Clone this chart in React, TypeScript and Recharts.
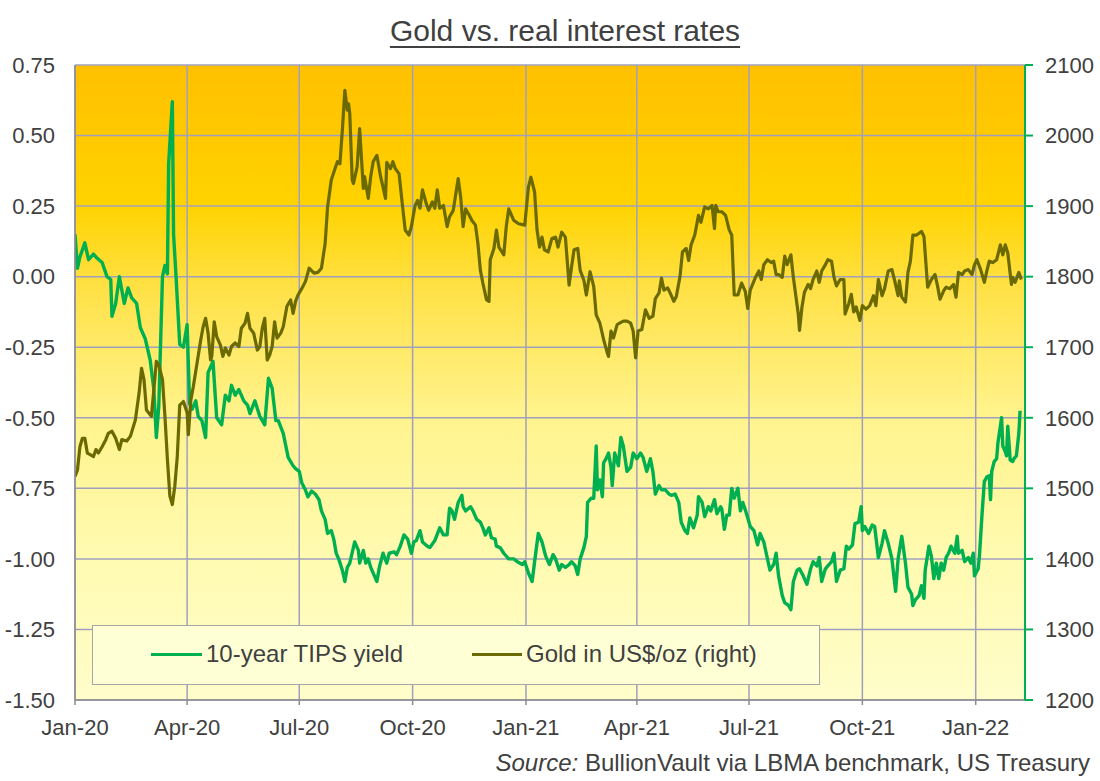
import React from 'react';
import { LineChart, Line, XAxis, YAxis, CartesianGrid } from 'recharts';

// days counted from 1 Jan 2020
const TICK_DAYS = [0, 91, 182, 274, 366, 456, 547, 639, 731];
const TICK_LABELS = ['Jan-20', 'Apr-20', 'Jul-20', 'Oct-20', 'Jan-21', 'Apr-21', 'Jul-21', 'Oct-21', 'Jan-22'];
const LEFT_TICKS = [-1.5, -1.25, -1, -0.75, -0.5, -0.25, 0, 0.25, 0.5, 0.75];
const RIGHT_TICKS = [1200, 1300, 1400, 1500, 1600, 1700, 1800, 1900, 2000, 2100];

// [day, 10-year TIPS yield %]
const TIPS_POINTS: [number, number][] = [
  [0, 0.15], [2, 0.03], [4, 0.07], [8, 0.12], [11, 0.06], [15, 0.08], [18, 0.065], [22, 0.05],
  [26, 0.0], [29, -0.01], [30, -0.14], [33, -0.095], [36, 0.0], [40, -0.095], [43, -0.04], [46, -0.075],
  [50, -0.095], [53, -0.18], [57, -0.22], [61, -0.295], [64, -0.4], [66, -0.57], [68, -0.46], [71, 0.0],
  [73, 0.04], [75, 0.01], [76, 0.4], [79, 0.62], [80, 0.15], [82, 0.0], [85, -0.24], [88, -0.25],
  [91, -0.17], [93, -0.45], [95, -0.47], [98, -0.44], [100, -0.495], [103, -0.51], [106, -0.57], [108, -0.34],
  [112, -0.3], [115, -0.5], [119, -0.525], [122, -0.42], [125, -0.44], [127, -0.385], [130, -0.42], [133, -0.4],
  [137, -0.44], [140, -0.455], [142, -0.485], [146, -0.44], [150, -0.495], [154, -0.525], [157, -0.36], [160, -0.395],
  [163, -0.51], [165, -0.51], [169, -0.555], [173, -0.64], [177, -0.67],
  [179, -0.68], [182, -0.69], [184, -0.73], [187, -0.756], [189, -0.78], [192, -0.76], [195, -0.77], [198, -0.79],
  [200, -0.83], [203, -0.86], [205, -0.91], [208, -0.9], [210, -0.93], [212, -0.98], [214, -1.0], [217, -1.04],
  [219, -1.08], [221, -1.03], [223, -1.015], [227, -0.94], [230, -0.97], [231, -1.015], [234, -0.97], [236, -1.015],
  [238, -1.0], [240, -1.03], [243, -1.06], [245, -1.08], [247, -1.03], [250, -0.98], [253, -1.015], [255, -0.98],
  [259, -0.975], [261, -0.985], [264, -0.955], [267, -0.915], [270, -0.93], [273, -0.98], [275, -0.94], [277, -0.935],
  [280, -0.9], [282, -0.94], [286, -0.955], [288, -0.96], [292, -0.935], [296, -0.89], [299, -0.915], [302, -0.915],
  [304, -0.82], [306, -0.83], [308, -0.86], [310, -0.82], [311, -0.8], [314, -0.775], [315, -0.815], [317, -0.83],
  [321, -0.815], [323, -0.83], [326, -0.86], [329, -0.87], [331, -0.89], [333, -0.915], [336, -0.89], [338, -0.925],
  [341, -0.93], [342, -0.955], [345, -0.96], [348, -0.98], [352, -1.0], [356, -1.0], [359, -1.01], [363, -1.02],
  [365, -1.01], [368, -1.05], [371, -1.08], [373, -1.01], [376, -0.91], [379, -0.94], [382, -0.99], [385, -1.02],
  [388, -0.985], [390, -1.0], [393, -1.04], [395, -1.02], [398, -1.03], [401, -1.02], [403, -1.01], [406, -1.025],
  [408, -1.055], [410, -1.0], [413, -0.96], [415, -0.92], [416, -0.8], [419, -0.785], [421, -0.785], [423, -0.6],
  [424, -0.755], [426, -0.72], [428, -0.78], [429, -0.66], [431, -0.645], [433, -0.625], [435, -0.675], [436, -0.74],
  [438, -0.625], [441, -0.67], [443, -0.57], [445, -0.6], [448, -0.69], [451, -0.675], [453, -0.625], [456, -0.645],
  [459, -0.625], [461, -0.64], [464, -0.69], [467, -0.645], [469, -0.69], [471, -0.77], [474, -0.74], [476, -0.755],
  [479, -0.755], [482, -0.77], [484, -0.775], [487, -0.77], [490, -0.8], [492, -0.87], [495, -0.9], [497, -0.91],
  [499, -0.855], [502, -0.89], [505, -0.845], [506, -0.78], [509, -0.8], [511, -0.85], [514, -0.815], [516, -0.83],
  [519, -0.79], [521, -0.84], [524, -0.815], [525, -0.825], [527, -0.895], [529, -0.845], [531, -0.845], [533, -0.75],
  [535, -0.785], [538, -0.75], [540, -0.83], [542, -0.8], [545, -0.84], [548, -0.885], [551, -0.9],
  [554, -0.95], [556, -0.91], [559, -0.94], [561, -0.98], [564, -1.04], [567, -1.02], [569, -0.98], [571, -1.06],
  [574, -1.13], [576, -1.155], [579, -1.165], [581, -1.18], [583, -1.08], [586, -1.04], [588, -1.035], [591, -1.06],
  [594, -1.09], [597, -1.035], [599, -1.01], [602, -1.025], [604, -0.995], [606, -1.08], [609, -1.035], [611, -1.025],
  [614, -1.01], [616, -0.98], [618, -1.08], [621, -1.04], [624, -1.035], [626, -0.955], [628, -0.965], [631, -0.95],
  [633, -0.875], [636, -0.87], [638, -0.815], [639, -0.9], [641, -0.885], [644, -0.91], [647, -0.88], [649, -0.885],
  [652, -0.995], [655, -0.945], [657, -0.9], [660, -0.945], [663, -1.0], [666, -1.115], [668, -1.0], [671, -0.92],
  [674, -1.015], [676, -1.1], [679, -1.125], [680, -1.165], [682, -1.145], [685, -1.13], [687, -1.095], [689, -1.14],
  [690, -1.04], [693, -0.955], [695, -0.99], [697, -1.07], [699, -1.015], [701, -1.07], [703, -1.015], [705, -1.04],
  [707, -0.995], [709, -0.98], [711, -0.955], [714, -0.98], [716, -0.92], [717, -0.98], [720, -0.97], [722, -1.01],
  [725, -0.995], [727, -1.015], [729, -0.98], [730, -1.06], [733, -1.035], [734, -0.99], [736, -0.85], [738, -0.725],
  [740, -0.71], [742, -0.705], [743, -0.79], [744, -0.69], [746, -0.655], [748, -0.645], [749, -0.59], [752, -0.5],
  [753, -0.6], [755, -0.62], [756, -0.635], [757, -0.53], [759, -0.65], [761, -0.655], [762, -0.645], [764, -0.635],
  [766, -0.555], [767, -0.475],
];

// [day, gold price US$/oz]
const GOLD_POINTS: [number, number][] = [
  [0, 1517], [2, 1526], [4, 1559], [6, 1571], [8, 1571], [10, 1550], [12, 1548], [15, 1545],
  [17, 1555], [19, 1550], [22, 1559], [25, 1569], [27, 1578], [30, 1581], [33, 1571], [36, 1555],
  [38, 1569], [42, 1567], [45, 1574], [49, 1597], [52, 1635], [54, 1670], [56, 1654], [58, 1611],
  [62, 1602], [64, 1640], [66, 1680], [68, 1675], [71, 1654], [73, 1602], [75, 1541], [77, 1489],
  [79, 1477], [81, 1503], [83, 1545], [85, 1618], [88, 1623], [91, 1607], [92, 1576], [94, 1625],
  [96, 1644], [99, 1677], [102, 1710], [104, 1729], [106, 1741], [108, 1720], [110, 1682], [111, 1687],
  [113, 1736], [115, 1715], [118, 1703], [120, 1687], [122, 1699], [125, 1689], [127, 1701], [130, 1706],
  [133, 1701], [135, 1727], [138, 1734], [140, 1748], [142, 1727], [145, 1720], [148, 1696], [150, 1701],
  [152, 1727], [154, 1741], [156, 1682], [158, 1689], [160, 1701], [162, 1736], [164, 1713], [167, 1720],
  [169, 1729], [172, 1758], [175, 1767], [177, 1748],
  [179, 1765], [181, 1774], [184, 1783], [187, 1793], [190, 1812], [194, 1805], [197, 1806], [200, 1812],
  [203, 1847], [205, 1899], [208, 1937], [211, 1953], [213, 1963], [215, 1960], [217, 2008], [219, 2064],
  [221, 2036], [222, 2045], [223, 2031], [225, 1937], [226, 1932], [229, 1956], [231, 2010], [234, 1925],
  [235, 1942], [238, 1911], [240, 1942], [242, 1963], [245, 1972], [248, 1942], [250, 1927], [252, 1911],
  [253, 1962], [256, 1953], [258, 1963], [260, 1953], [263, 1946], [265, 1913], [268, 1866], [271, 1859],
  [273, 1871], [276, 1901], [278, 1908], [280, 1897], [282, 1923], [285, 1904], [287, 1894], [290, 1906],
  [292, 1897], [294, 1923], [296, 1897], [299, 1901], [302, 1871], [304, 1885], [307, 1894], [311, 1939],
  [313, 1913], [315, 1871], [317, 1896], [320, 1887], [322, 1880], [325, 1873], [327, 1847], [329, 1809],
  [331, 1791], [334, 1767], [336, 1765], [337, 1824], [340, 1840], [342, 1866], [344, 1842], [348, 1831],
  [350, 1871], [352, 1896], [356, 1880], [360, 1875], [365, 1873],
  [368, 1927], [370, 1941], [373, 1920], [375, 1866], [377, 1842], [379, 1856], [381, 1838], [384, 1835],
  [387, 1854], [390, 1856], [392, 1842], [395, 1863], [398, 1856], [401, 1788], [403, 1814], [405, 1838],
  [408, 1840], [410, 1809], [413, 1795], [415, 1774], [418, 1807], [421, 1786], [423, 1746], [426, 1734],
  [429, 1711], [432, 1692], [433, 1687], [435, 1723], [437, 1713], [440, 1732], [442, 1734], [445, 1737],
  [448, 1737], [451, 1734], [453, 1723], [455, 1685], [457, 1723], [460, 1725], [463, 1753], [466, 1741],
  [469, 1744], [471, 1769], [474, 1777], [476, 1798], [478, 1781], [481, 1784], [483, 1777], [486, 1765],
  [488, 1772], [491, 1800], [493, 1835], [496, 1840], [498, 1823], [500, 1845], [503, 1859], [506, 1887],
  [508, 1877], [511, 1899], [514, 1896], [517, 1901], [519, 1868], [520, 1901], [522, 1892], [525, 1892],
  [528, 1887], [531, 1866], [533, 1859], [535, 1774], [538, 1774], [541, 1791], [544, 1779], [546, 1755],
  [548, 1781], [552, 1798],
  [555, 1808], [557, 1796], [559, 1817], [562, 1824], [565, 1820], [567, 1822], [569, 1803], [571, 1803],
  [574, 1799], [576, 1829], [578, 1817], [581, 1831], [583, 1799], [585, 1773], [587, 1747], [588, 1724],
  [590, 1757], [592, 1778], [595, 1789], [597, 1783], [599, 1796], [602, 1808], [604, 1792], [606, 1808],
  [609, 1817], [611, 1824], [614, 1822], [616, 1799], [618, 1787], [621, 1796], [624, 1796], [625, 1747],
  [628, 1762], [630, 1775], [632, 1750], [634, 1757], [637, 1738], [639, 1759], [642, 1754], [645, 1759],
  [648, 1773], [650, 1759], [652, 1796], [655, 1773], [657, 1783], [660, 1808], [663, 1810], [665, 1796],
  [668, 1773], [669, 1794], [671, 1771], [674, 1764], [676, 1806], [678, 1822], [680, 1859], [683, 1859],
  [687, 1864], [689, 1857], [692, 1785], [695, 1796], [698, 1803], [700, 1787], [702, 1768], [705, 1780],
  [707, 1785], [710, 1783], [713, 1789], [715, 1771], [717, 1806], [720, 1803], [722, 1808], [725, 1810],
  [728, 1803], [730, 1817], [732, 1824], [735, 1810], [738, 1792], [740, 1808], [742, 1822], [745, 1820],
  [748, 1824], [751, 1845], [753, 1831], [755, 1845], [757, 1834], [760, 1789], [761, 1799], [763, 1792],
  [766, 1806], [768, 1796],
];

const tipsData = TIPS_POINTS.map(([day, tips]) => ({ day, tips }));
const goldData = GOLD_POINTS.map(([day, gold]) => ({ day, gold }));

const FONT = '"Liberation Sans", Arial, sans-serif';
const TEXT = '#404040';
const GRID = '#A0A0BE';
const TIPS_COLOR = '#00B050';
const GOLD_COLOR = '#6A6A00';

const formatDay = (d: number) => {
  const i = TICK_DAYS.indexOf(d);
  return i >= 0 ? TICK_LABELS[i] : '';
};

export default function App() {
  return (
    <div style={{ position: 'absolute', left: 0, top: 0, width: 1100, height: 781, background: '#fff', fontFamily: FONT }}>
      <div
        style={{
          position: 'absolute', left: 0, top: 16, width: 1130, textAlign: 'center',
          fontSize: 30, lineHeight: '30px', color: TEXT, textDecoration: 'underline',
          textUnderlineOffset: 5, textDecorationThickness: 2,
        }}
      >
        Gold vs. real interest rates
      </div>

      <LineChart width={1100} height={781} margin={{ top: 65, right: 0, bottom: 51, left: 0 }}>
        <defs>
          <linearGradient id="plotBg" x1="0" y1="0" x2="0" y2="1">
            <stop offset="0%" stopColor="#FFC000" />
            <stop offset="22%" stopColor="#FFD300" />
            <stop offset="36%" stopColor="#FFE24A" />
            <stop offset="55%" stopColor="#FFF38C" />
            <stop offset="80%" stopColor="#FFFBB4" />
            <stop offset="100%" stopColor="#FFFDCA" />
          </linearGradient>
        </defs>
        <CartesianGrid yAxisId="left" stroke={GRID} strokeWidth={1.5} fill="url(#plotBg)" fillOpacity={1} />
        <XAxis
          type="number"
          dataKey="day"
          domain={[0, 771]}
          ticks={TICK_DAYS}
          interval={0}
          allowDataOverflow
          tickFormatter={formatDay}
          height={30}
          tickSize={5}
          tickMargin={14}
          axisLine={{ stroke: '#8C8C8C', strokeWidth: 1.5 }}
          tickLine={{ stroke: '#8C8C8C', strokeWidth: 1.5 }}
          tick={{ fill: TEXT, fontSize: 22, fontFamily: FONT }}
        />
        <YAxis
          yAxisId="left"
          domain={[-1.5, 0.75]}
          ticks={LEFT_TICKS}
          interval={0}
          width={75}
          tickSize={0}
          tickMargin={20}
          tickLine={false}
          tickFormatter={(v: number) => v.toFixed(2)}
          axisLine={{ stroke: '#8C8C8C', strokeWidth: 1.5 }}
          tick={{ fill: TEXT, fontSize: 22, fontFamily: FONT }}
        />
        <YAxis
          yAxisId="right"
          orientation="right"
          domain={[1200, 2100]}
          ticks={RIGHT_TICKS}
          interval={0}
          width={75}
          tickSize={8}
          tickMargin={12}
          axisLine={{ stroke: TIPS_COLOR, strokeWidth: 2 }}
          tickLine={{ stroke: TIPS_COLOR, strokeWidth: 2 }}
          tick={{ fill: TEXT, fontSize: 22, fontFamily: FONT }}
        />
        <Line
          yAxisId="left"
          data={tipsData}
          dataKey="tips"
          type="linear"
          stroke={TIPS_COLOR}
          strokeWidth={3.4}
          strokeLinejoin="round"
          dot={false}
          isAnimationActive={false}
        />
        <Line
          yAxisId="right"
          data={goldData}
          dataKey="gold"
          type="linear"
          stroke={GOLD_COLOR}
          strokeWidth={3.2}
          strokeLinejoin="round"
          dot={false}
          isAnimationActive={false}
        />
      </LineChart>

      <div
        style={{
          position: 'absolute', left: 92, top: 625, width: 728, height: 60, boxSizing: 'border-box',
          background: '#FFFFD6', border: '1.5px solid #A6A6A6', color: TEXT, fontSize: 24,
        }}
      >
        <div style={{ position: 'absolute', left: 58, top: 27, width: 51, height: 3, background: TIPS_COLOR }} />
        <span style={{ position: 'absolute', left: 113, top: 16, lineHeight: '24px', whiteSpace: 'nowrap' }}>
          10-year TIPS yield
        </span>
        <div style={{ position: 'absolute', left: 379, top: 27, width: 50, height: 3, background: GOLD_COLOR }} />
        <span style={{ position: 'absolute', left: 433, top: 16, lineHeight: '24px', whiteSpace: 'nowrap' }}>
          Gold in US$/oz (right)
        </span>
      </div>

      <div
        style={{
          position: 'absolute', right: 10, top: 751, fontSize: 24, lineHeight: '24px',
          color: TEXT, whiteSpace: 'nowrap',
        }}
      >
        <i>Source:</i> BullionVault via LBMA benchmark, US Treasury
      </div>
    </div>
  );
}
